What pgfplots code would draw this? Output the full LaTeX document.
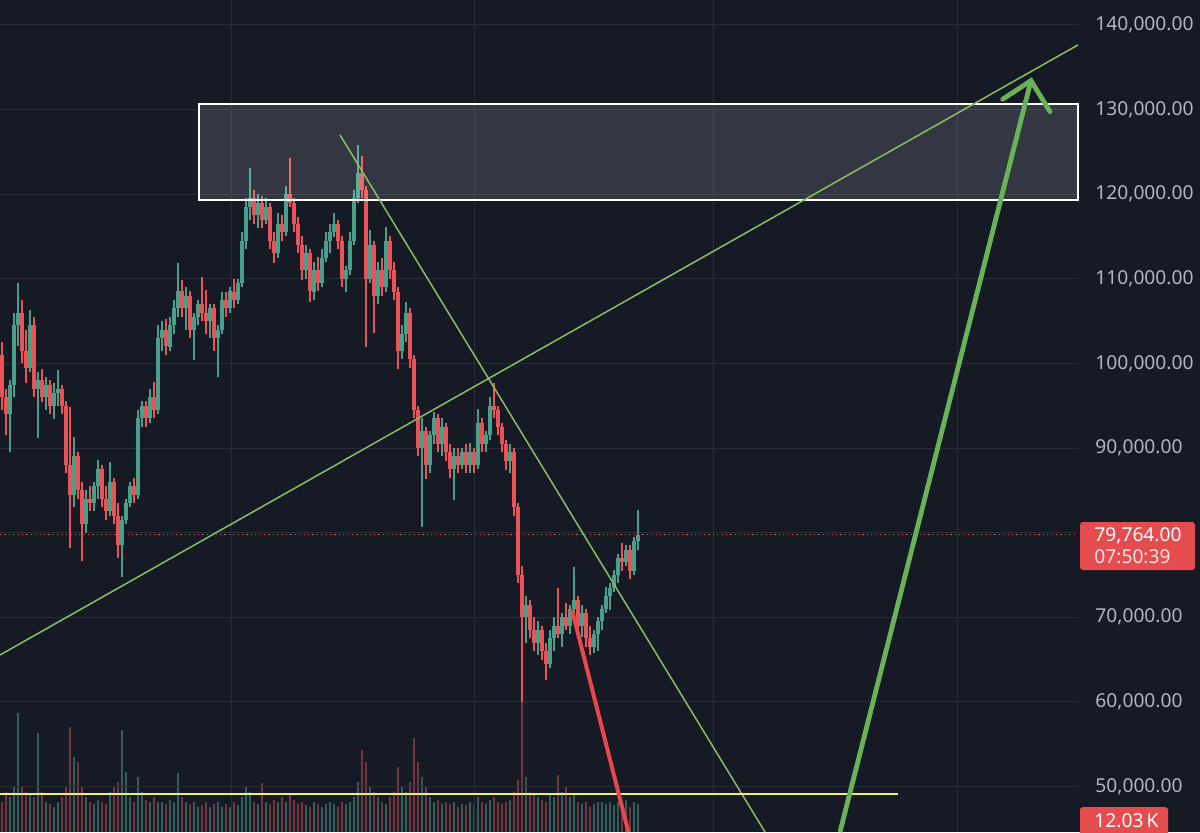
\documentclass[border=0pt]{standalone}
\usepackage{pgfplots}
\pgfplotsset{compat=1.18}
\usepackage{pgfplotstable}
\usepackage{fontspec}
\setmainfont{Noto Sans}
\definecolor{bg}{RGB}{22,26,37}
\definecolor{gridc}{RGB}{40,44,56}
\definecolor{upc}{RGB}{72,160,140}
\definecolor{dnc}{RGB}{234,82,86}
\definecolor{labc}{RGB}{178,181,190}
\definecolor{trend}{RGB}{134,190,100}
\definecolor{arrowg}{RGB}{106,178,88}
\definecolor{redl}{RGB}{232,72,76}
\definecolor{yel}{RGB}{240,236,120}
\definecolor{boxred}{RGB}{229,76,80}

\pgfplotstableread{
i o h l c v
0 101.0 102.5 94.5 96.0 30
1 96.0 97.0 91.5 94.0 40
2 94.0 98.0 89.5 97.5 35
3 97.5 106.0 96.0 104.5 45
4 104.5 109.5 102.0 106.0 119
5 106.0 107.5 100.0 101.5 45
6 101.5 104.0 97.7 99.5 40
7 99.5 106.3 99.0 104.5 38
8 104.5 105.5 96.0 97.0 35
9 97.0 99.0 91.2 98.0 99
10 98.0 99.3 95.4 96.0 40
11 96.0 98.4 94.5 97.5 30
12 97.5 98.0 94.0 95.0 28
13 95.0 97.7 93.4 96.5 25
14 96.5 99.2 95.0 97.0 30
15 97.0 97.5 94.0 95.0 35
16 95.0 95.5 87.0 88.0 45
17 88.0 94.9 78.2 84.5 105
18 84.5 91.3 83.0 89.0 75
19 89.0 89.5 84.0 85.0 70
20 85.0 86.0 76.6 81.0 45
21 81.0 85.0 80.0 84.0 35
22 84.0 85.5 82.5 83.5 30
23 83.5 86.0 82.5 85.5 28
24 85.5 88.6 84.0 87.5 32
25 87.5 88.0 83.0 84.0 30
26 84.0 85.5 81.5 82.5 28
27 82.5 88.3 82.0 86.0 40
28 86.0 86.5 81.0 82.0 45
29 82.0 83.5 77.0 78.5 50
30 78.5 82.0 74.7 81.5 102
31 81.5 84.0 81.0 83.5 60
32 83.5 86.0 83.0 85.5 35
33 85.5 86.5 83.5 84.5 30
34 84.5 94.5 84.0 93.5 55
35 93.5 95.5 92.5 95.0 40
36 95.0 95.5 92.5 93.5 32
37 93.5 97.0 93.0 96.0 30
38 96.0 97.8 93.5 94.5 35
39 94.5 104.5 94.0 103.0 30
40 103.0 105.0 101.5 104.0 30
41 104.0 105.2 101.0 102.0 28
42 102.0 105.5 101.5 104.5 32
43 104.5 107.5 103.5 106.5 30
44 106.5 111.9 105.5 108.5 59
45 108.5 109.9 105.5 106.5 35
46 106.5 109.0 104.0 108.0 30
47 108.0 108.5 103.0 104.0 28
48 104.0 106.0 100.4 105.5 30
49 105.5 107.5 104.5 107.0 25
50 107.0 110.2 105.0 106.0 27
51 106.0 108.7 103.5 105.0 30
52 105.0 107.0 103.0 106.5 25
53 106.5 107.0 101.5 103.0 28
54 103.0 104.5 98.4 104.0 30
55 104.0 108.4 103.5 107.5 25
56 107.5 108.5 105.5 106.5 28
57 106.5 109.0 106.0 108.5 25
58 108.5 110.0 106.5 107.5 30
59 107.5 110.0 107.0 109.5 27
60 109.5 115.5 109.0 114.5 35
61 114.5 119.5 113.5 118.5 45
62 118.5 123.1 117.0 119.5 40
63 119.5 120.5 116.5 117.5 30
64 117.5 120.0 116.0 119.0 28
65 119.0 119.8 116.0 117.0 49
66 117.0 119.5 116.5 118.5 30
67 118.5 119.0 113.5 114.5 28
68 114.5 115.5 111.9 113.0 32
69 113.0 117.8 112.5 116.5 30
70 116.5 117.5 114.5 115.5 35
71 115.5 121.0 115.0 120.0 30
72 120.0 124.3 118.5 119.0 38
73 119.0 119.5 115.5 116.5 32
74 116.5 117.3 113.0 114.0 28
75 114.0 115.0 109.9 111.0 30
76 111.0 114.0 110.0 113.0 27
77 113.0 113.5 107.2 108.5 25
78 108.5 112.0 107.5 111.0 30
79 111.0 112.6 108.5 109.5 28
80 109.5 113.5 109.0 112.5 25
81 112.5 115.5 112.0 114.5 28
82 114.5 116.5 113.0 115.5 30
83 115.5 117.8 115.0 116.5 28
84 116.5 117.0 113.5 114.5 25
85 114.5 115.0 109.0 110.0 30
86 110.0 111.5 108.5 111.0 28
87 111.0 115.5 110.5 114.5 30
88 114.5 120.5 114.0 119.5 35
89 119.5 125.8 119.0 122.5 50
90 122.5 124.5 119.5 120.5 82
91 120.5 121.0 102.0 110.0 70
92 110.0 115.8 109.5 114.0 45
93 114.0 114.5 103.6 108.0 40
94 108.0 112.0 107.0 111.0 35
95 111.0 112.5 108.0 109.0 30
96 109.0 116.1 108.5 114.5 28
97 114.5 115.0 110.0 111.0 35
98 111.0 112.0 107.5 108.5 40
99 108.5 109.0 99.3 101.5 65
100 101.5 104.5 100.5 103.5 45
101 103.5 107.3 102.5 106.0 40
102 106.0 106.5 99.5 100.5 50
103 100.5 101.0 93.5 94.5 94
104 94.5 95.0 89.0 90.0 70
105 90.0 93.5 80.7 92.0 55
106 92.0 92.5 86.3 88.0 45
107 88.0 92.0 87.0 91.5 35
108 91.5 94.2 90.5 93.5 30
109 93.5 94.0 89.5 90.5 32
110 90.5 93.5 89.0 92.5 28
111 92.5 93.0 88.5 89.5 30
112 89.5 90.5 86.5 87.5 28
113 87.5 90.0 83.9 89.0 30
114 89.0 90.0 87.0 88.0 25
115 88.0 90.0 87.5 89.5 28
116 89.5 90.5 87.0 88.0 27
117 88.0 90.6 87.0 89.5 30
118 89.5 90.0 87.0 88.0 28
119 88.0 94.6 87.5 93.0 35
120 93.0 93.5 89.5 90.5 30
121 90.5 92.0 89.5 91.5 28
122 91.5 96.0 91.0 95.0 32
123 95.0 97.7 93.5 94.5 35
124 94.5 95.0 91.5 92.5 30
125 92.5 93.0 89.5 90.5 28
126 90.5 91.0 87.4 88.5 30
127 88.5 90.5 87.0 89.5 32
128 89.5 90.0 82.0 83.0 40
129 83.0 83.5 74.0 75.0 52
130 75.0 76.0 60.0 70.0 132
131 70.0 72.5 67.0 71.5 55
132 71.5 72.0 67.5 68.5 40
133 68.5 70.0 66.0 67.0 38
134 67.0 69.5 65.5 68.5 35
135 68.5 69.0 65.0 66.0 32
136 66.0 67.0 62.6 64.5 30
137 64.5 68.5 64.0 67.5 38
138 67.5 70.0 66.0 69.0 35
139 69.0 73.5 67.5 68.0 57
140 68.0 70.5 66.5 70.0 40
141 70.0 71.7 68.5 69.0 45
142 69.0 71.5 68.0 71.0 35
143 71.0 75.9 70.0 72.0 38
144 72.0 72.5 68.0 69.0 30
145 69.0 71.5 67.7 70.5 28
146 70.5 71.0 66.5 67.5 30
147 67.5 69.0 65.5 66.5 25
148 66.5 68.5 65.8 68.0 28
149 68.0 70.0 66.0 69.5 30
150 69.5 71.5 68.5 71.0 30
151 71.0 73.6 70.5 72.5 28
152 72.5 74.0 70.9 73.5 30
153 73.5 75.6 73.0 75.0 27
154 75.0 77.5 74.0 77.0 30
155 77.0 78.8 75.5 76.5 28
156 76.5 78.5 76.0 78.0 32
157 78.0 78.5 74.5 75.5 25
158 75.5 79.5 75.0 79.0 30
159 79.0 82.7 78.0 79.764 28
}\candles

\pgfplotsset{
  wick/.style={draw=none, mark=none,
    error bars/y dir=both, error bars/y explicit, error bars/error mark=none,
    error bars/error bar style={line width=0.55pt, draw=#1}},
  body/.style={draw=none, mark=none,
    error bars/y dir=both, error bars/y explicit, error bars/error mark=none,
    error bars/error bar style={line width=1.6pt, draw=#1}},
  isup/.style={restrict expr to domain={\thisrow{c}-\thisrow{o}}{0:1000}},
  isdn/.style={restrict expr to domain={\thisrow{c}-\thisrow{o}}{-1000:-0.00001}},
}

\begin{document}
\begin{tikzpicture}[x=1pt,y=1pt]
\fill[bg] (0,0) rectangle (600,416);
\useasboundingbox (0,0) rectangle (600,416);

% volume pane
\begin{axis}[at={(0,0)}, anchor=south west, scale only axis,
  width=539pt, height=416pt, xmin=-0.5, xmax=269, ymin=0, ymax=832,
  hide axis, clip=false]
\addplot[ycomb, mark=none, draw=upc, draw opacity=0.5, line width=1.2pt, isup]
  table[x=i, y=v] {\candles};
\addplot[ycomb, mark=none, draw=dnc, draw opacity=0.45, line width=1.2pt, isdn]
  table[x=i, y=v] {\candles};
\end{axis}

% price pane
\begin{axis}[at={(0,0)}, anchor=south west, scale only axis,
  width=539pt, height=416pt, xmin=-0.5, xmax=269, ymin=44.62, ymax=142.95,
  clip=false, axis line style={draw=none}, major tick length=0pt,
  xtick={57.25,118,177.75,238.75}, xticklabels={,,,},
  ytick={50,60,70,80,90,100,110,120,130,140},
  yticklabels={{50,000.00},{60,000.00},{70,000.00},{},{90,000.00},{100,000.00},{110,000.00},{120,000.00},{130,000.00},{140,000.00}},
  grid=major, grid style={draw=gridc, line width=0.5pt},
  yticklabel pos=right,
  yticklabel style={anchor=west, inner sep=0pt, xshift=8.5pt, text=labc,
    font=\fontsize{9.6}{12}\selectfont},
]
% candles
\addplot[wick=upc, isup] table[x=i, y expr={(\thisrow{h}+\thisrow{l})/2},
  y error expr={(\thisrow{h}-\thisrow{l})/2}] {\candles};
\addplot[wick=dnc, isdn] table[x=i, y expr={(\thisrow{h}+\thisrow{l})/2},
  y error expr={(\thisrow{h}-\thisrow{l})/2}] {\candles};
\addplot[body=upc, isup] table[x=i, y expr={(\thisrow{o}+\thisrow{c})/2},
  y error expr={abs(\thisrow{c}-\thisrow{o})/2}] {\candles};
\addplot[body=dnc, isdn] table[x=i, y expr={(\thisrow{o}+\thisrow{c})/2},
  y error expr={abs(\thisrow{c}-\thisrow{o})/2}] {\candles};

% resistance box
\fill[white, fill opacity=0.13] (axis cs:49.25,119.32) rectangle (axis cs:269,130.66);
\draw[white, line width=1pt] (axis cs:49.25,119.32) rectangle (axis cs:269,130.66);

% trend lines
\draw[trend, line width=0.75pt] (axis cs:-0.5,65.54) -- (axis cs:269,137.64);
\draw[trend, line width=0.75pt] (axis cs:84.5,127.0) -- (axis cs:190.75,44.62);

% current price dotted line
\draw[boxred, line width=0.6pt, dash pattern=on 0.6pt off 1.6pt] (axis cs:-0.5,79.764) -- (axis cs:269,79.764);

% yellow line
\draw[yel, line width=0.8pt] (axis cs:-0.5,49.11) -- (axis cs:224,49.11);

% red line
\draw[redl, line width=2pt] (axis cs:142.5,70.86) -- (axis cs:156.6,44.62);

% green arrow
\draw[arrowg, line width=2.4pt] (axis cs:209.5,44.62) -- (axis cs:257.25,133.42);
\draw[arrowg, line width=2.4pt, line cap=round, line join=miter]
  (axis cs:250.17,131.22) -- (axis cs:257.25,133.42) -- (axis cs:262,129.75);
\end{axis}

% price label
\fill[boxred, rounded corners=1.5pt] (540,131) rectangle (597.5,155);
\node[anchor=west, inner sep=0pt, text=white, font=\fontsize{9.6}{12}\selectfont] at (547,148.3) {79,764.00};
\node[anchor=west, inner sep=0pt, text=white!85!boxred, font=\fontsize{9.6}{12}\selectfont] at (547,137.6) {07:50:39};
% volume label
\fill[boxred, rounded corners=1.5pt] (540,-2) rectangle (584,12.5);
\node[anchor=west, inner sep=0pt, text=white, font=\fontsize{9.6}{12}\selectfont] at (547,5.5) {12.03\,K};
\end{tikzpicture}
\end{document}
